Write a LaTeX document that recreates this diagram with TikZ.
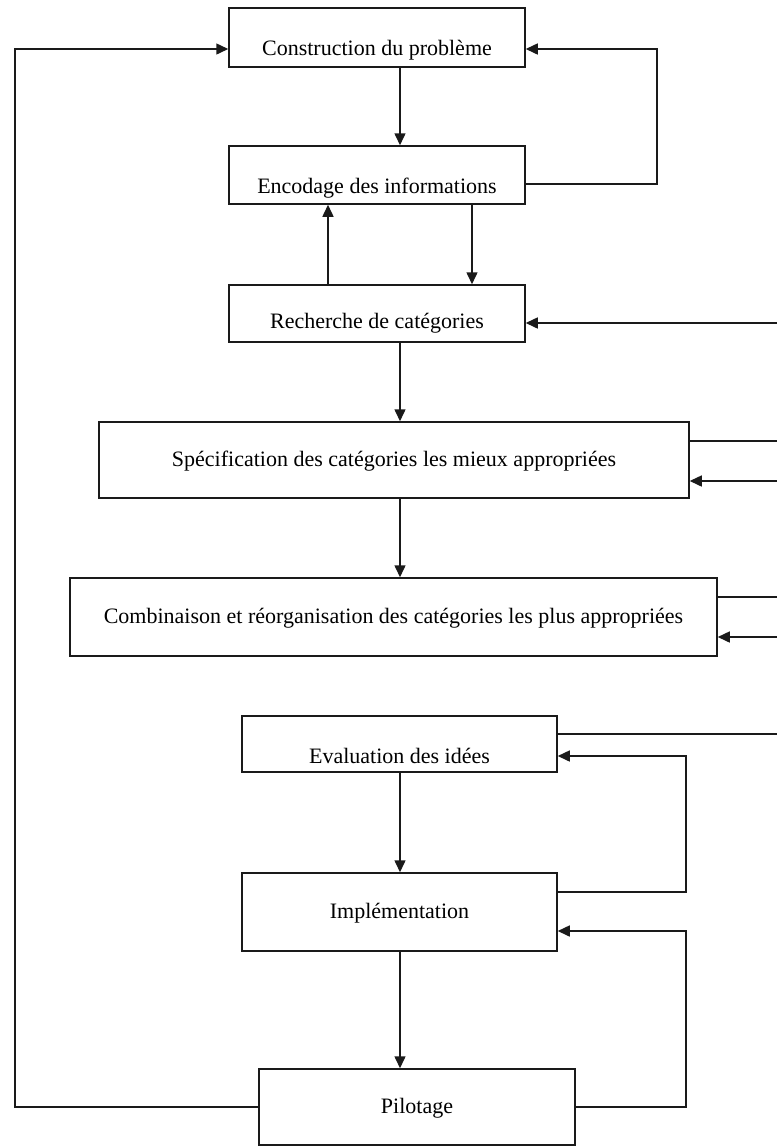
\documentclass[tikz,border=0pt]{standalone}
\usepackage{fontspec}
\setmainfont{Liberation Serif}
\usetikzlibrary{arrows.meta,positioning,calc}
\definecolor{ink}{HTML}{1A1A1A}

\begin{document}
\begin{tikzpicture}[x=0.5pt,y=-0.5pt,font=\fontsize{11}{13}\selectfont,
    box/.style={draw=ink,line width=0.75pt,inner ysep=0pt,text depth=2pt,text height=8.6pt},
    sunk/.style={text height=#1},
    flow/.style={-{Triangle[length=6pt,width=5.5pt]},ink,line width=0.75pt},
    wire/.style={ink,line width=0.75pt}]
  \useasboundingbox (0,0) rectangle (777,1147);
  % boxes
  \node[box,sunk=20.1pt,minimum width=148pt,minimum height=29.5pt] (cons) at (377,37.5) {Construction du problème};
  \node[box,sunk=20.6pt,minimum width=148pt,minimum height=29pt] (enc) at (377,175) {Encodage des informations};
  \node[box,sunk=17.1pt,minimum width=148pt,minimum height=28.5pt] (rech) at (377,313.5) {Recherche de catégories};
  \node[box,minimum width=295pt,minimum height=38pt] (spec) at (394,460) {Spécification des catégories les mieux appropriées};
  \node[box,minimum width=323.5pt,minimum height=39pt] (comb) at (393.5,617) {Combinaison et réorganisation des catégories les plus appropriées};
  \node[box,sunk=21.6pt,minimum width=157.5pt,minimum height=28pt] (eval) at (399.5,744) {Evaluation des idées};
  \node[box,minimum width=157.5pt,minimum height=39pt] (impl) at (399.5,912) {Implémentation};
  \node[box,minimum width=158pt,minimum height=38pt] (pil) at (417,1107) {Pilotage};
  % main line
  \coordinate (spine) at (400,0);
  \draw[flow] (cons.south -| spine) -- (enc.north -| spine);
  \draw[flow] (rech.south -| spine) -- (spec.north -| spine);
  \draw[flow] (spec.south -| spine) -- (comb.north -| spine);
  \draw[flow] (eval.south -| spine) -- (impl.north -| spine);
  \draw[flow] (impl.south -| spine) -- (pil.north -| spine);
  \coordinate (down) at (472,0);
  \coordinate (up) at (328,0);
  \draw[flow] (enc.south -| down) -- (rech.north -| down);
  \draw[flow] (rech.north -| up) -- (enc.south -| up);
  % feedback
  \coordinate (loopA) at (657,49);
  \draw[flow] ([yshift=-4.5pt]enc.east) -| (loopA) -- (cons.east |- loopA);
  \coordinate (loopL) at (15,49);
  \draw[flow] (pil.west) -| (loopL) -- (cons.west |- loopL);
  \coordinate (loopB) at (686,756);
  \draw[flow] ([yshift=10pt]impl.east) -| (loopB) -- (eval.east |- loopB);
  \coordinate (loopC) at (686,931);
  \draw[flow] (pil.east) -| (loopC) -- (impl.east |- loopC);
  % lines to the right edge
  \coordinate (rechIn) at (777,323);
  \coordinate (specOut) at (777,441);
  \coordinate (specIn) at (777,481);
  \coordinate (combOut) at (777,597);
  \coordinate (combIn) at (777,637);
  \coordinate (evalOut) at (777,734);
  \draw[flow] (rechIn) -- (rech.east |- rechIn);
  \draw[wire] (spec.east |- specOut) -- (specOut);
  \draw[flow] (specIn) -- (spec.east |- specIn);
  \draw[wire] (comb.east |- combOut) -- (combOut);
  \draw[flow] (combIn) -- (comb.east |- combIn);
  \draw[wire] (eval.east |- evalOut) -- (evalOut);
\end{tikzpicture}
\end{document}
